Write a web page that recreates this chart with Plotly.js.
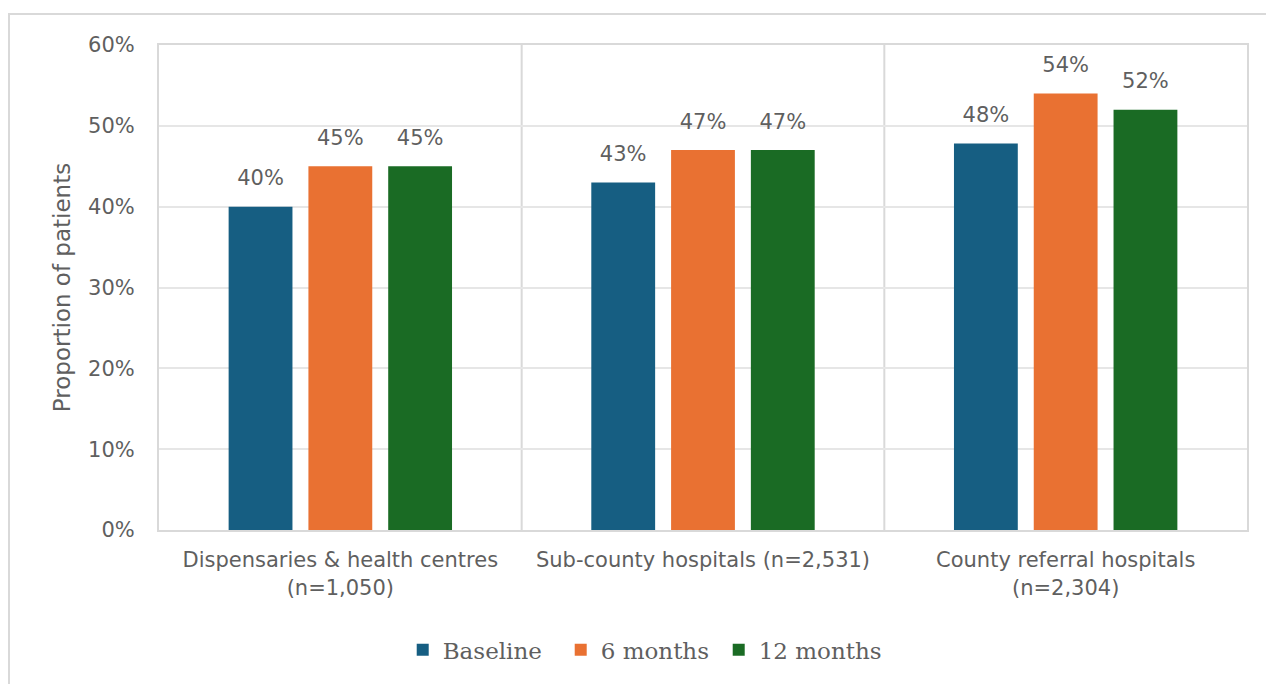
<!DOCTYPE html>
<html>
<head>
<meta charset="utf-8">
<script src="https://cdn.plot.ly/plotly-3.0.1.min.js"></script>
<style>
html,body{margin:0;padding:0;background:#fff;overflow:hidden;}
#frame{position:absolute;left:8px;top:13px;width:1300px;height:700px;border:2px solid #d9d9d9;box-sizing:border-box;}
#chart{position:absolute;left:0;top:0;width:1266px;height:684px;}
#chart .legend .scrollbox{clip-path:none !important;}
</style>
</head>
<body>
<div id="frame"></div>
<div id="chart"></div>
<script>
const categories = ["Dispensaries & health centres<br>(n=1,050)", "Sub-county hospitals (n=2,531)", "County referral hospitals<br>(n=2,304)"];
const seriesNames = ["Baseline", "6 months", "12 months"];
const baseline = [40, 43, 47.8];
const sixMonths = [45, 47, 54];
const twelveMonths = [45, 47, 52];
const baselineLabels = ["40%", "43%", "48%"];
const sixLabels = ["45%", "47%", "54%"];
const twelveLabels = ["45%", "47%", "52%"];
const yTicks = [0, 10, 20, 30, 40, 50, 60];
const yTickText = ["0%", "10%", "20%", "30%", "40%", "50%", "60%"];

const colors = ["#165e82", "#e97132", "#1a6b24"];
const values = [baseline, sixMonths, twelveMonths];
const labels = [baselineLabels, sixLabels, twelveLabels];

const xIdx = categories.map((_, i) => i);
const sansFont = "'DejaVu Sans', 'Liberation Sans', sans-serif";
const labelFont = {family: sansFont, size: 21, color: "#5f5f5f"};

const bars = values.map((v, i) => ({
  type: "bar", name: seriesNames[i], x: xIdx, y: v,
  marker: {color: colors[i]}, hoverinfo: "skip"
}));
const texts = values.map((v, i) => ({
  type: "scatter", mode: "markers+text", x: xIdx, y: v,
  text: labels[i], textposition: "top center", textfont: labelFont,
  marker: {size: 24, opacity: 0}, showlegend: false, cliponaxis: false, hoverinfo: "skip"
}));

const layout = {
  width: 1266, height: 684,
  paper_bgcolor: "rgba(0,0,0,0)", plot_bgcolor: "rgba(0,0,0,0)",
  margin: {l: 159, r: 19, t: 45, b: 154},
  barmode: "group", bargap: 0.34, bargroupgap: 0.2,
  scattermode: "group", scattergap: 0.34,
  showlegend: true,
  legend: {
    orientation: "h", x: 0.224, xanchor: "left", y: -0.247, yanchor: "middle",
    font: {family: "'DejaVu Serif', 'Liberation Serif', serif", size: 23, color: "#5f5f5f"},
    itemwidth: 30, entrywidth: 113, entrywidthmode: "pixels", traceorder: "normal"
  },
  xaxis: {
    range: [-0.5, 2.5], tickvals: xIdx, ticktext: categories,
    tickfont: labelFont, ticks: "", ticklabelstandoff: 10, showgrid: false, zeroline: false,
    showline: true, linecolor: "#d9d9d9", linewidth: 2, mirror: true,
    fixedrange: true
  },
  yaxis: {
    range: [0, 60], tickvals: yTicks, ticktext: yTickText,
    tickfont: labelFont, ticks: "", ticklabelstandoff: 18,
    showgrid: true, gridcolor: "#e6e6e6", gridwidth: 2, zeroline: false,
    showline: true, linecolor: "#d9d9d9", linewidth: 2, mirror: true,
    title: {text: "Proportion of patients", font: {family: sansFont, size: 23, color: "#5f5f5f"}, standoff: 11},
    fixedrange: true
  },
  shapes: [0.5, 1.5].map(v => ({
    type: "line", xref: "x", yref: "paper", x0: v, x1: v, y0: 0, y1: 1,
    line: {color: "#d9d9d9", width: 2}, layer: "below"
  }))
};

Plotly.newPlot("chart", bars.concat(texts), layout, {displayModeBar: false, staticPlot: true});
</script>
</body>
</html>
